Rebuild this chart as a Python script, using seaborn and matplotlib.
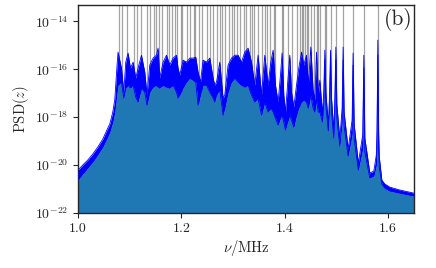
import numpy as np
import pandas as pd
import matplotlib
matplotlib.use("Agg")
import matplotlib.pyplot as plt
import seaborn as sns

# spectrum: frequency (MHz), log10 of the top and bottom of the noisy PSD trace
freq_mhz = [1.0, 1.0091, 1.0188, 1.0285, 1.0381, 1.0478, 1.0575, 1.0614, 1.0672, 1.071,
            1.0755, 1.0774, 1.084, 1.0885, 1.0923, 1.0968, 1.1014, 1.1065, 1.1117, 1.1161,
            1.1227, 1.1291, 1.1335, 1.1388, 1.1452, 1.1517, 1.1548, 1.1581, 1.1645, 1.1711,
            1.1775, 1.1839, 1.1904, 1.1935, 1.1968, 1.2032, 1.2098, 1.2162, 1.2226, 1.2278,
            1.2322, 1.2369, 1.2419, 1.2485, 1.2549, 1.2613, 1.2646, 1.2679, 1.2742, 1.2806,
            1.2839, 1.2903, 1.2969, 1.3033, 1.3097, 1.3162, 1.3226, 1.329, 1.3356, 1.342,
            1.3484, 1.355, 1.3613, 1.3677, 1.373, 1.3774, 1.382, 1.3871, 1.3917, 1.3948,
            1.3981, 1.4014, 1.4053, 1.4097, 1.413, 1.4175, 1.4227, 1.4271, 1.4324, 1.4368,
            1.442, 1.4455, 1.4504, 1.4548, 1.4581, 1.4614, 1.4649, 1.4678, 1.473, 1.4755,
            1.4775, 1.4794, 1.4842, 1.4866, 1.4885, 1.4904, 1.4949, 1.4968, 1.4988, 1.5007,
            1.5065, 1.511, 1.5129, 1.5148, 1.5226, 1.5303, 1.5322, 1.5342, 1.5423, 1.551,
            1.5529, 1.5549, 1.5646, 1.5723, 1.5771, 1.5785, 1.58, 1.5816, 1.5829, 1.5878,
            1.5936, 1.6033, 1.6226, 1.65]
log_psd_top = [-20.21, -20.0, -19.79, -19.54, -19.25, -18.92, -18.46, -18.29, -17.79, -17.29,
               -15.83, -15.29, -15.96, -16.96, -15.71, -15.33, -15.96, -15.71, -16.375, -15.96,
               -15.42, -16.125, -17.08, -15.83, -15.54, -15.42, -15.125, -16.375, -15.71, -15.42,
               -15.83, -15.54, -15.42, -15.96, -16.25, -15.625, -15.71, -15.54, -15.54, -15.5,
               -16.125, -16.54, -15.625, -15.71, -15.54, -16.375, -16.67, -16.54, -15.71, -17.21,
               -17.08, -15.83, -15.54, -15.42, -15.42, -15.71, -15.29, -15.125, -15.71, -16.67,
               -15.42, -17.08, -15.42, -16.67, -15.71, -15.21, -16.67, -17.375, -16.25, -15.33,
               -17.08, -17.79, -16.67, -15.42, -16.96, -17.58, -16.67, -15.96, -15.29, -15.83,
               -15.42, -16.67, -15.08, -16.875, -17.29, -15.29, -17.08, -16.46, -17.875, -16.875,
               -15.21, -16.96, -18.29, -17.08, -15.21, -17.21, -18.58, -17.29, -15.08, -17.46,
               -18.92, -17.625, -15.08, -17.79, -19.33, -18.125, -15.33, -18.29, -19.92, -18.71,
               -15.42, -18.875, -20.33, -20.25, -19.58, -18.54, -14.79, -18.67, -19.67, -20.625,
               -20.79, -20.92, -21.04, -21.17]
log_psd_bottom = [-20.625, -20.375, -20.125, -19.875, -19.58, -19.25, -18.83, -18.625, -18.21, -17.79,
                  -16.96, -16.67, -16.54, -17.21, -16.79, -16.67, -16.79, -16.67, -17.17, -17.375,
                  -16.79, -16.96, -17.5, -16.96, -16.75, -16.67, -16.75, -16.79, -16.67, -16.75,
                  -16.79, -16.67, -16.96, -17.21, -17.08, -16.79, -16.54, -16.375, -16.46, -16.54,
                  -17.5, -17.08, -16.67, -16.67, -16.96, -17.21, -17.375, -17.08, -16.875, -17.92,
                  -17.625, -16.96, -16.54, -16.375, -16.54, -16.67, -16.75, -16.67, -17.08, -17.375,
                  -17.21, -17.92, -17.375, -17.79, -17.625, -17.79, -18.04, -18.33, -18.04, -17.92,
                  -18.21, -18.54, -18.21, -17.92, -18.125, -18.42, -17.92, -17.625, -17.375, -17.29,
                  -17.375, -17.625, -17.08, -17.625, -17.79, -17.29, -17.79, -17.79, -18.21, -17.46,
                  -15.625, -17.46, -18.58, -17.71, -15.625, -17.79, -18.875, -17.92, -15.625, -18.04,
                  -19.21, -18.21, -15.625, -18.375, -19.625, -18.71, -15.83, -18.875, -20.21, -19.29,
                  -15.96, -19.46, -20.54, -20.46, -20.0, -19.17, -15.42, -19.29, -20.08, -20.79,
                  -20.96, -21.08, -21.17, -21.29]

# sharp resonance lines (grey), in MHz
resonance_mhz = [1.0801, 1.0846, 1.0948, 1.1091, 1.1141, 1.1213, 1.1343, 1.1388, 1.1471, 1.1504,
                 1.1568, 1.162, 1.173, 1.1761, 1.1813, 1.1871, 1.1924, 1.1988, 1.202, 1.2117,
                 1.2162, 1.2245, 1.2272, 1.2336, 1.24, 1.2497, 1.2549, 1.2613, 1.2679, 1.2756,
                 1.2787, 1.2853, 1.2917, 1.298, 1.3027, 1.3077, 1.3143, 1.3207, 1.3259, 1.3323,
                 1.3368, 1.3395, 1.3491, 1.3555, 1.3619, 1.3652, 1.3716, 1.3782, 1.3813, 1.3942,
                 1.3975, 1.4072, 1.4136, 1.4233, 1.4296, 1.4329, 1.4362, 1.4393, 1.4426, 1.4459,
                 1.4517, 1.4562, 1.4614, 1.4645, 1.4691, 1.4775, 1.4795, 1.4885, 1.4988, 1.5117,
                 1.5322, 1.5529, 1.58]

x_ticks = [1.0, 1.2, 1.4, 1.6]
x_tick_labels = ["1.0", "1.2", "1.4", "1.6"]
y_ticks = [1e-22, 1e-20, 1e-18, 1e-16, 1e-14]

df = pd.DataFrame({"nu": freq_mhz,
                   "top": 10.0 ** np.array(log_psd_top),
                   "bottom": 10.0 ** np.array(log_psd_bottom)})

sns.set_style("ticks")
plt.rcParams["font.family"] = ["serif"]
plt.rcParams["font.serif"] = ["cmr10"]
plt.rcParams["mathtext.fontset"] = "cm"
plt.rcParams["axes.formatter.use_mathtext"] = True

fig = plt.figure(figsize=(4.36, 2.68), dpi=100)
ax = fig.add_axes([0.179, 0.205, 0.7705, 0.776])

ax.vlines(resonance_mhz, 1e-23, 1e-12, color="0.35", alpha=0.55, lw=0.9, zorder=1)
ax.fill_between(df["nu"], 1e-23, df["bottom"], color="#1f77b4", lw=0, zorder=2)
ax.fill_between(df["nu"], df["bottom"], df["top"], color="#0000ff", lw=0, zorder=3)
sns.lineplot(data=df, x="nu", y="top", color="#0000ff", lw=0.6, sort=False,
             estimator=None, ax=ax, zorder=4)
sns.lineplot(data=df, x="nu", y="bottom", color="#0000ff", lw=0.6, sort=False,
             estimator=None, ax=ax, zorder=4)

ax.set_yscale("log")
ax.set_xlim(1.0, 1.65)
ax.set_ylim(1e-22, 10 ** -13.33)
ax.set_xticks(x_ticks)
ax.set_xticklabels(x_tick_labels)
ax.set_yticks(y_ticks)
ax.yaxis.set_minor_locator(matplotlib.ticker.NullLocator())
ax.tick_params(axis="both", labelsize=10, direction="out", length=3.5, width=0.8)
for s in ax.spines.values():
    s.set_linewidth(1.0)
    s.set_color("0.15")
ax.set_xlabel(r"$\nu/\mathrm{MHz}$", fontsize=10.5, labelpad=2)
ax.set_ylabel(r"$\mathrm{PSD}(z)$", fontsize=10.5, labelpad=3)
ax.text(0.997, 0.985, "(b)", transform=ax.transAxes, ha="right", va="top",
        fontsize=15.5, zorder=5)

fig.savefig("out.png", dpi=100)
